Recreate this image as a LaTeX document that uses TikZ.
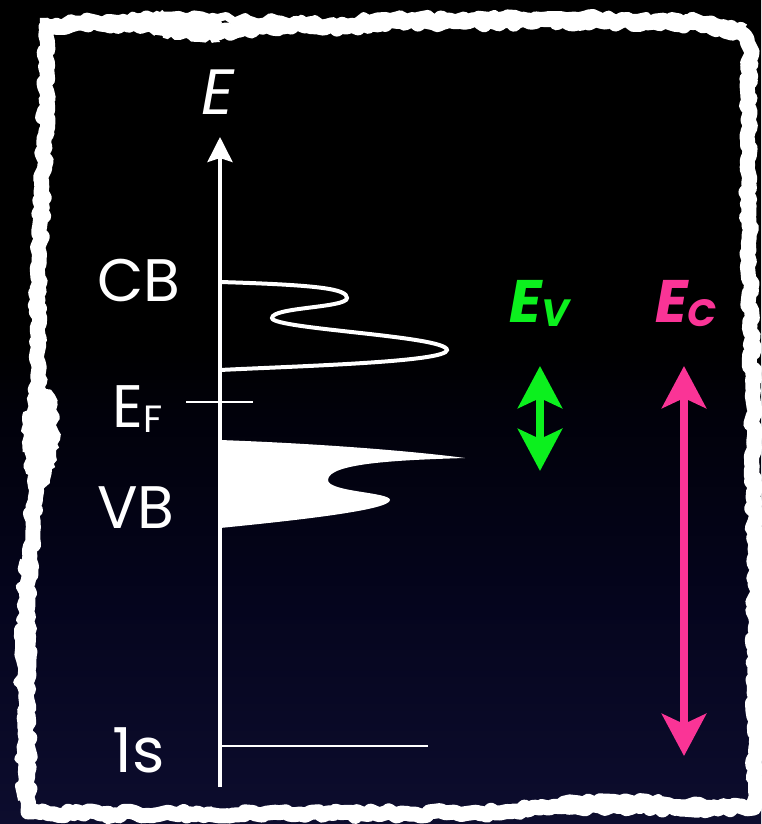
\documentclass[tikz,border=0pt]{standalone}
\usepackage{fontspec}
\setmainfont{Poppins}
\usetikzlibrary{arrows.meta,decorations.pathmorphing}

\definecolor{navybg}{RGB}{13,13,46}
\definecolor{navymid}{RGB}{5,5,30}
\definecolor{navydeep}{RGB}{1,1,10}
\definecolor{evgreen}{RGB}{12,240,30}
\definecolor{ecpink}{RGB}{250,52,150}

% dark night-sky backdrop: black above, deep navy towards the bottom
% (the filled area spans 25bp to 75bp of the shading)
\pgfdeclareverticalshading{nightsky}{100bp}{color(0bp)=(navybg); color(25bp)=(navybg); color(38bp)=(navymid); color(50bp)=(navydeep); color(54bp)=(black); color(100bp)=(black)}

\newcommand{\fsz}[1]{\fontsize{#1}{#1}\selectfont}

\tikzset{
  tornedge/.style={draw=white, line width=7.5pt, line join=round,
    decorate, decoration={random steps, segment length=2.2pt, amplitude=1.4pt}},
  tornrim/.style={draw=white, line width=4pt, line join=round,
    decorate, decoration={random steps, segment length=3pt, amplitude=1.6pt}},
  tornblob/.style={fill=white, decorate,
    decoration={random steps, segment length=2pt, amplitude=1.2pt}},
  levelline/.style={draw=white, line width=1.1pt},
  bandlabel/.style={text=white, inner sep=0pt, font=\fsz{30}},
  bigarrow/.style={line width=4.4pt,
    {Stealth[length=21pt, width=22pt, inset=5pt]}-{Stealth[length=21pt, width=22pt, inset=5pt]}},
  arrowlabel/.style={inner sep=0pt, anchor=base west, font=\bfseries\itshape\fsz{30}}
}

\begin{document}
\begin{tikzpicture}[x=0.5pt,y=-0.5pt]
\useasboundingbox (0,0) rectangle (761,824);
\shade[shading=nightsky] (0,0) rectangle (761,824);

% rough torn-paper frame
\pgfmathsetseed{11}
\draw[tornedge] (46,27) -- (100,24) -- (150,24) -- (190,29) -- (218,33) -- (240,30)
  -- (300,24) -- (345,27) -- (380,22) -- (480,22) -- (600,21) -- (700,24) -- (740,32)
  -- (750,48) -- (748,120) -- (749,250) -- (753,400) -- (755,550) -- (755,700)
  -- (754,808) -- (700,808) -- (600,806) -- (540,808) -- (500,813) -- (300,814)
  -- (100,814) -- (28,812) -- (27,700) -- (28,600) -- (33,520) -- (38,400)
  -- (38,300) -- (42,200) -- (46,100) -- cycle;
% uneven outer rim of the tear
\pgfmathsetseed{5}
\draw[tornrim] (40,22) -- (110,18) -- (160,16) -- (330,22) -- (390,17) -- (560,15)
  -- (700,19) -- (745,28);
\draw[tornrim] (22,800) -- (20,660) -- (24,560);
\draw[tornrim] (560,802) -- (620,799) -- (700,801) -- (748,806);
\draw[tornrim] (755,430) -- (758,600) -- (757,760);
\fill[tornblob] (120,18) -- (160,12) -- (200,15) -- (222,22) -- (220,42) -- (180,40) -- (140,32) -- cycle;
\fill[tornblob] (35,380) -- (55,395) -- (60,440) -- (50,480) -- (40,492) -- (25,470) -- (22,420) -- cycle;

% energy axis
\coordinate (axbot) at (220,787);
\coordinate (axtop) at (220,137);
\draw[white, line width=1.7pt, -{Stealth[length=12.5pt, width=12.5pt, inset=2pt]}] (axbot) -- (axtop);
\node[text=white, inner sep=0pt, anchor=base, font=\itshape\fsz{32}] (elab) at (218,115) {E};

% conduction band density of states
\coordinate (cbstart) at (220,282);
\coordinate (cbend) at (220,370);
\draw[white, line width=2pt, line cap=round] (cbstart)
  .. controls (320,285) and (347,289) .. (347,298)
  .. controls (347,308) and (272,307) .. (272,318)
  .. controls (272,329) and (447,336) .. (447,350)
  .. controls (447,362) and (300,366) .. (cbend);

% filled valence band
\coordinate (vbtop) at (220,440);
\coordinate (vbbot) at (220,528);
\fill[white] (vbtop)
  .. controls (330,444) and (420,452) .. (465,458)
  .. controls (400,460) and (328,463) .. (328,480)
  .. controls (328,492) and (390,492) .. (390,500)
  .. controls (390,510) and (300,520) .. (vbbot) -- cycle;

% Fermi level tick and 1s core level
\coordinate (efleft) at (186,402);
\coordinate (efright) at (253,402);
\draw[white, line width=1pt] (efleft) -- (efright);
\coordinate (coreleft) at (220,746);
\coordinate (coreright) at (428,746);
\draw[levelline] (coreleft) -- (coreright);

% level labels
\node[bandlabel, anchor=base west] (cb) at (97,301) {CB};
\node[bandlabel, anchor=base west] (ef) at (112,427) {E\raisebox{-2.5pt}{\fsz{19}F}};
\node[bandlabel, anchor=base west] (vb) at (97,528) {VB};
\node[bandlabel, anchor=base east, font=\fsz{31}] (core) at (165,772) {1s};

% valence and core excitation ranges
\coordinate (evtop) at (540,366);
\coordinate (evbot) at (540,471);
\draw[bigarrow, evgreen] (evtop) -- (evbot);
\node[arrowlabel, text=evgreen] (ev) at (509,322) {E\raisebox{-2pt}{\fsz{19}V}};

\coordinate (ectop) at (684,366);
\coordinate (ecbot) at (684,756);
\draw[bigarrow, ecpink] (ectop) -- (ecbot);
\node[arrowlabel, text=ecpink] (ec) at (655,322) {E\raisebox{-2pt}{\fsz{19}C}};
\end{tikzpicture}
\end{document}
